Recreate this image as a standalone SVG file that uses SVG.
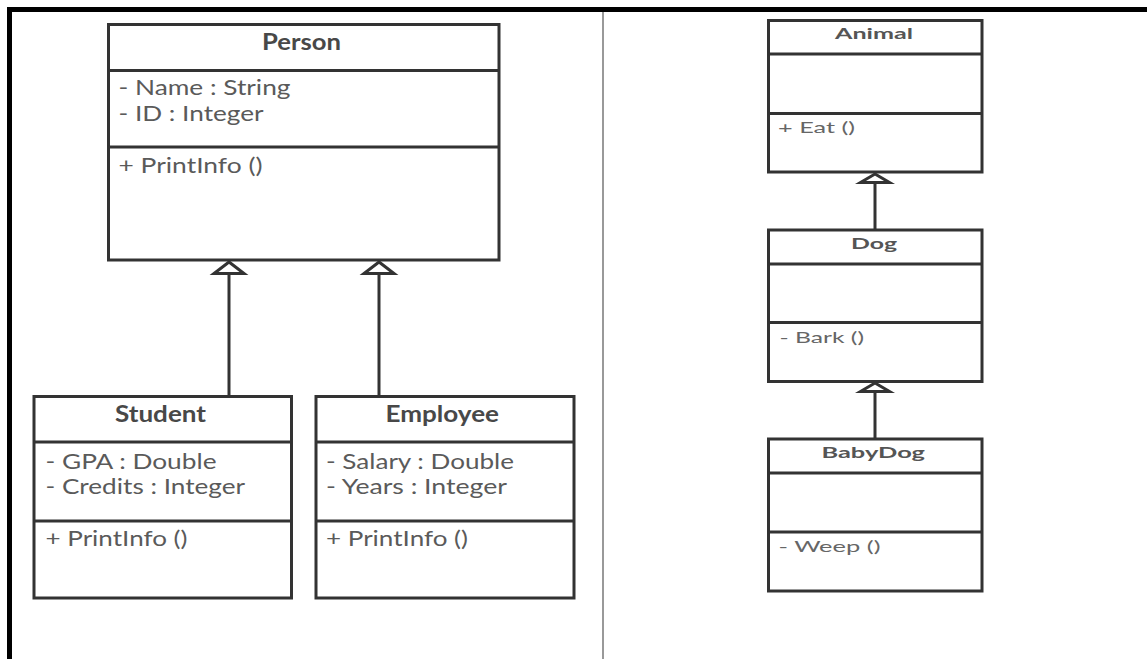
<svg xmlns="http://www.w3.org/2000/svg" width="1147" height="659" viewBox="0 0 1147 659">
  <style>
    .box { fill: #ffffff; stroke: #333333; stroke-width: 3; }
    .div { stroke: #333333; stroke-width: 3; }
    .conn { stroke: #333333; stroke-width: 3; fill: none; }
    .tl { font-family: Lato, "Liberation Sans", sans-serif; font-weight: bold; font-size: 22px; fill: #484848; }
    .bl { font-family: Lato, "Liberation Sans", sans-serif; font-size: 21px; fill: #5a5a5a; }
    .tr { font-family: Lato, "Liberation Sans", sans-serif; font-weight: bold; font-size: 16px; fill: #555555; }
    .br { font-family: Lato, "Liberation Sans", sans-serif; font-size: 16px; fill: #666666; }
  </style>
  <defs>
    <marker id="genL" markerUnits="userSpaceOnUse" viewBox="-20 -20 40 40" markerWidth="40" markerHeight="40" refX="0" refY="0" orient="auto">
      <path d="M0,0 L-11.5,-15 L-11.5,15 Z" fill="#ffffff" stroke="#333333" stroke-width="3" stroke-linejoin="miter"/>
    </marker>
    <marker id="genR" markerUnits="userSpaceOnUse" viewBox="-20 -20 40 40" markerWidth="40" markerHeight="40" refX="0" refY="0" orient="auto">
      <path d="M0,0 L-8.5,-14.5 L-8.5,14.5 Z" fill="#ffffff" stroke="#333333" stroke-width="3" stroke-linejoin="miter"/>
    </marker>
  </defs>
  <rect x="0" y="0" width="1147" height="659" fill="#ffffff"/>
  <g id="frame">
    <line x1="7" y1="9.5" x2="1147" y2="9.5" stroke="#000000" stroke-width="5"/>
    <line x1="9.5" y1="7" x2="9.5" y2="659" stroke="#000000" stroke-width="5"/>
    <line x1="603" y1="12" x2="603" y2="659" stroke="#777777" stroke-width="1.5"/>
  </g>
  <g id="connectors">
    <line class="conn" x1="229" y1="396.5" x2="229" y2="262" marker-end="url(#genL)"/>
    <line class="conn" x1="379" y1="396.5" x2="379" y2="262" marker-end="url(#genL)"/>
    <line class="conn" x1="875" y1="230" x2="875" y2="174" marker-end="url(#genR)"/>
    <line class="conn" x1="875" y1="439" x2="875" y2="383" marker-end="url(#genR)"/>
  </g>
  <g id="person">
    <rect class="box" x="108.5" y="24.5" width="390.5" height="235.5"/>
    <line class="div" x1="108.5" y1="70.5" x2="499" y2="70.5"/>
    <line class="div" x1="108.5" y1="147" x2="499" y2="147"/>
    <text class="tl" x="262" y="50" textLength="79" lengthAdjust="spacingAndGlyphs">Person</text>
    <text class="bl" x="118.5" y="95" textLength="172" lengthAdjust="spacingAndGlyphs">- Name : String</text>
    <text class="bl" x="118.5" y="121" textLength="145" lengthAdjust="spacingAndGlyphs">- ID : Integer</text>
    <text class="bl" x="118.5" y="173" textLength="144" lengthAdjust="spacingAndGlyphs">+ PrintInfo ()</text>
  </g>
  <g id="student">
    <rect class="box" x="34" y="396.5" width="257.5" height="201.5"/>
    <line class="div" x1="34" y1="442" x2="291.5" y2="442"/>
    <line class="div" x1="34" y1="521" x2="291.5" y2="521"/>
    <text class="tl" x="115" y="422" textLength="91" lengthAdjust="spacingAndGlyphs">Student</text>
    <text class="bl" x="45.5" y="469" textLength="171" lengthAdjust="spacingAndGlyphs">- GPA : Double</text>
    <text class="bl" x="45.5" y="494" textLength="199.5" lengthAdjust="spacingAndGlyphs">- Credits : Integer</text>
    <text class="bl" x="45.5" y="546" textLength="142" lengthAdjust="spacingAndGlyphs">+ PrintInfo ()</text>
  </g>
  <g id="employee">
    <rect class="box" x="316" y="396.5" width="258" height="201.5"/>
    <line class="div" x1="316" y1="442" x2="574" y2="442"/>
    <line class="div" x1="316" y1="521" x2="574" y2="521"/>
    <text class="tl" x="385.5" y="422" textLength="113.5" lengthAdjust="spacingAndGlyphs">Employee</text>
    <text class="bl" x="326" y="469" textLength="188" lengthAdjust="spacingAndGlyphs">- Salary : Double</text>
    <text class="bl" x="326" y="494" textLength="181" lengthAdjust="spacingAndGlyphs">- Years : Integer</text>
    <text class="bl" x="326" y="546" textLength="142" lengthAdjust="spacingAndGlyphs">+ PrintInfo ()</text>
  </g>
  <g id="animal">
    <rect class="box" x="768.5" y="20.5" width="213.5" height="151.5"/>
    <line class="div" x1="768.5" y1="54" x2="982" y2="54"/>
    <line class="div" x1="768.5" y1="113.5" x2="982" y2="113.5"/>
    <text class="tr" x="835" y="39" textLength="78" lengthAdjust="spacingAndGlyphs">Animal</text>
    <text class="br" x="778" y="133" textLength="77" lengthAdjust="spacingAndGlyphs">+ Eat ()</text>
  </g>
  <g id="dog">
    <rect class="box" x="768.5" y="230" width="213.5" height="151.5"/>
    <line class="div" x1="768.5" y1="264" x2="982" y2="264"/>
    <line class="div" x1="768.5" y1="322.5" x2="982" y2="322.5"/>
    <text class="tr" x="851" y="249" textLength="46" lengthAdjust="spacingAndGlyphs">Dog</text>
    <text class="br" x="779.5" y="342.5" textLength="84.5" lengthAdjust="spacingAndGlyphs">- Bark ()</text>
  </g>
  <g id="babydog">
    <rect class="box" x="768.5" y="439" width="213.5" height="152"/>
    <line class="div" x1="768.5" y1="473" x2="982" y2="473"/>
    <line class="div" x1="768.5" y1="532" x2="982" y2="532"/>
    <text class="tr" x="821.5" y="458" textLength="103.5" lengthAdjust="spacingAndGlyphs">BabyDog</text>
    <text class="br" x="778.5" y="552" textLength="102" lengthAdjust="spacingAndGlyphs">- Weep ()</text>
  </g>
</svg>
